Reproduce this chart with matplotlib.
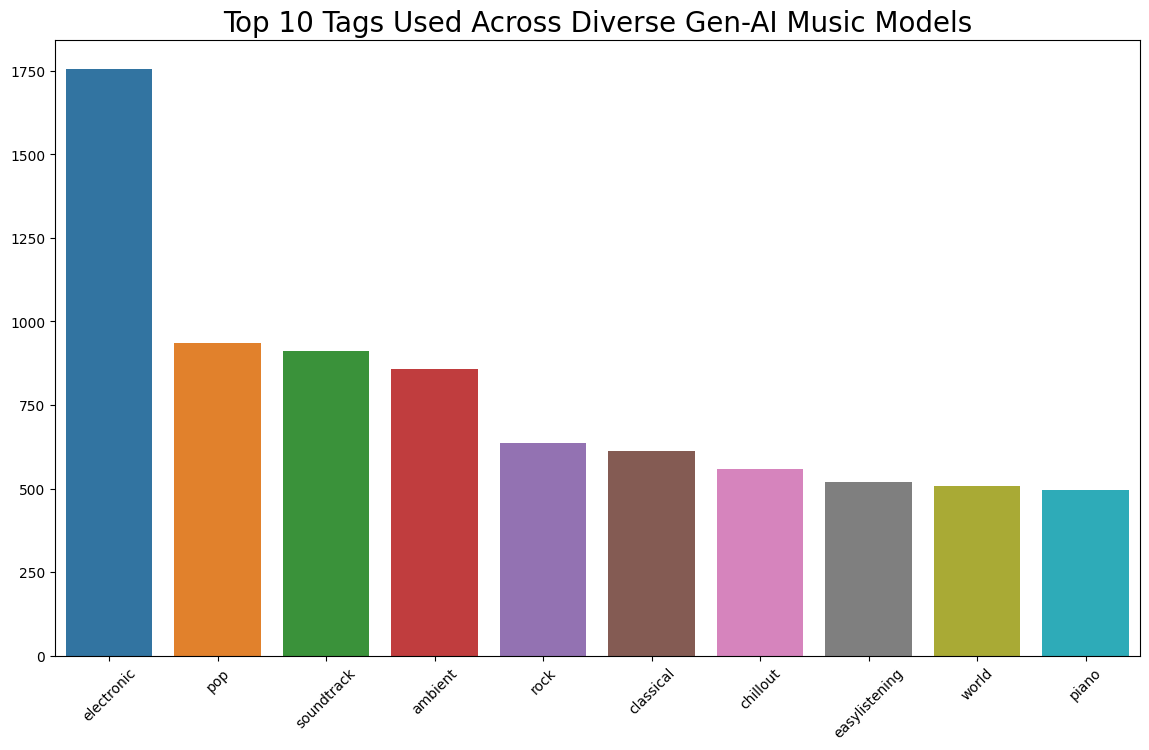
import matplotlib
matplotlib.use("Agg")
import matplotlib.pyplot as plt
import seaborn as sns

tags = ["electronic", "pop", "soundtrack", "ambient", "rock",
        "classical", "chillout", "easylistening", "world", "piano"]
counts = [1756, 936, 912, 858, 637, 613, 559, 520, 508, 497]

plt.figure(figsize=(14, 8))
ax = sns.barplot(x=tags, y=counts, hue=tags, palette="tab10", legend=False)
ax.set_title("Top 10 Tags Used Across Diverse Gen-AI Music Models", fontsize=20)
plt.xticks(rotation=45)

plt.savefig("out.png", dpi=100, bbox_inches="tight")
